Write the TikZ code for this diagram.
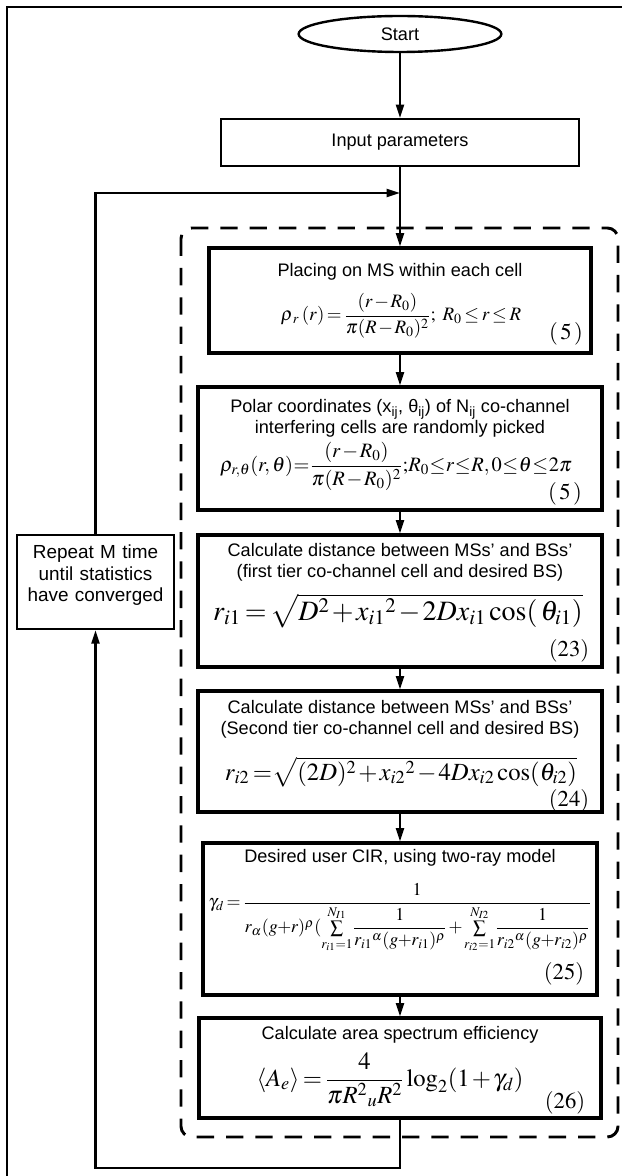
\documentclass[tikz,border=0pt]{standalone}
\usepackage{amsmath}
\usepackage{mathptmx}
\usepackage[no-math]{fontspec}
\setmainfont{Liberation Sans}
\usetikzlibrary{arrows.meta, fit, shapes.geometric}
\newcommand{\tightmath}{\medmuskip=1.5mu plus 1mu\thickmuskip=2.5mu plus 1mu\thinmuskip=2mu}

\begin{document}
\begin{tikzpicture}[x=0.75pt, y=-0.75pt,
    stepbox/.style={draw, line width=2.4pt, inner sep=0pt},
    thinbox/.style={draw, line width=1.6pt, inner sep=0pt},
    flow/.style={line width=1.6pt, -{Triangle[length=10pt, width=6pt]}},
    steptext/.style={align=center, inner sep=0pt, font=\fontsize{13.6}{16}\selectfont},
    eqtext/.style={inner sep=0pt, font={\fontsize{#1}{#1}\selectfont\tightmath}},
    eqno/.style={inner sep=0pt, font=\fontsize{17}{20}\selectfont}]
    % Fixed page size
    \useasboundingbox (0,0) rectangle (621,1176);

    % Outer frame (cut by the page on the right and bottom)
    \draw[line width=1.5pt] (7,1200) -- (7,7) -- (640,7);

    % Start and input
    \node[draw, ellipse, line width=1.8pt, inner sep=0pt, minimum width=152pt,
          minimum height=27pt, font=\fontsize{13.6}{16}\selectfont] (start) at (400,34) {Start};
    \node[thinbox, fit={(221,119) (579,166)}] (input) {};
    \node[steptext] (input-text) at (400,142.5) {Input parameters};

    % Dashed group round the loop body
    \draw[line width=2.2pt, dash pattern=on 13pt off 9pt, rounded corners=8pt]
        (181,228) rectangle (618,1137);

    % Loop body boxes
    \node[stepbox, fit={(209,248) (591,353)}] (place) {};
    \node[stepbox, fit={(198,387) (602,510)}] (polar) {};
    \node[stepbox, fit={(198,535) (602,667)}] (dist1) {};
    \node[stepbox, fit={(198,691) (602,812)}] (dist2) {};
    \node[stepbox, fit={(203,843) (597,995)}] (cir) {};
    \node[stepbox, fit={(199,1018) (601,1118)}] (ase) {};

    % Repeat box
    \node[draw, line width=1.8pt, inner sep=0pt, fit={(17,535) (174,629)}, align=center,
          font=\fontsize{14.2}{16.2}\selectfont] (repeat)
          {Repeat M time\\until statistics\\have converged};

    % Texts of the boxes
    \node[steptext] (place-text) at (400,272) {Placing on MS within each cell};
    \node[eqtext=14.2] (place-eq) at (401,316)
        {$\rho_{\,r}\;(r)=\dfrac{(r-R_0)}{\pi(R-R_0)^2};\;\, R_0\le r\le R$};
    \node[eqno] (place-no) at (566,334) {$(\,5\,)$};

    \node[steptext] (polar-text) at (400,418.5)
        {Polar coordinates (x\textsubscript{ij}, θ\textsubscript{ij}) of N\textsubscript{ij} co-channel\\interfering cells are randomly picked};
    \node[eqtext=15.3] (polar-eq) at (396,466)
        {$\rho_{r,\theta}(r,\theta)\!=\!\dfrac{(r-R_0)}{\pi(R-R_0)^2};\!R_0\!\le\! r\!\le\! R,0\!\le\!\theta\!\le\!2\pi$};
    \node[eqno] (polar-no) at (565,494) {$(\,5\,)$};

    \node[steptext] (dist1-text) at (400,562)
        {Calculate distance between MSs’ and BSs’\\(first tier co-channel cell and desired BS)};
    \node[eqtext=21] (dist1-eq) at (398,611)
        {$r_{i1}=\sqrt{D^2+{x_{i1}}^2-2Dx_{i1}\cos(\,\theta_{i1})}$};
    \node[eqno] (dist1-no) at (569,651) {$(23)$};

    \node[steptext] (dist2-text) at (400,719)
        {Calculate distance between MSs’ and BSs’\\(Second tier co-channel cell and desired BS)};
    \node[eqtext=18.5] (dist2-eq) at (401,772)
        {$r_{i2}=\!\sqrt{(2D)^2+{x_{i2}}^2-4Dx_{i2}\cos(\theta_{i2})}$};
    \node[eqno] (dist2-no) at (569,801) {$(24)$};

    \node[steptext] (cir-text) at (400,858) {Desired user CIR, using two-ray model};
    \node[eqtext=13.5] (cir-eq) at (400,918)
        {$\gamma_d=\dfrac{1}{r_\alpha(g\!+\!r)^\rho(\sum\limits_{r_{i1}=1}^{N_{I1}}\!\dfrac{1}{{r_{i1}}^\alpha(g\!+\!r_{i1})^\rho}+\sum\limits_{r_{i2}=1}^{N_{I2}}\!\dfrac{1}{{r_{i2}}^\alpha(g\!+\!r_{i2})^\rho}}$};
    \node[eqno] (cir-no) at (564,974) {$(25)$};

    \node[steptext] (ase-text) at (400,1035) {Calculate area spectrum efficiency};
    \node[eqtext=18.5] (ase-eq) at (390,1080)
        {$\left\langle A_e\right\rangle=\dfrac{4}{\pi {R^2}_u R^2}\log_2(1+\gamma_d)$};
    \node[eqno] (ase-no) at (565,1103) {$(26)$};

    % Connectors
    \coordinate (join) at (400,193);
    \coordinate (back) at (400,1168);
    \draw[flow] (start) -- (input);
    \draw[flow] (input) -- (place);
    \foreach \a/\b in {place/polar, polar/dist1, dist1/dist2, dist2/cir, cir/ase} {
        \draw[flow] (\a) -- (\b);
    }
    \draw[flow] (repeat.north) |- (join);
    \draw[flow] (ase.south) -- (back) -| (repeat.south);
\end{tikzpicture}
\end{document}
